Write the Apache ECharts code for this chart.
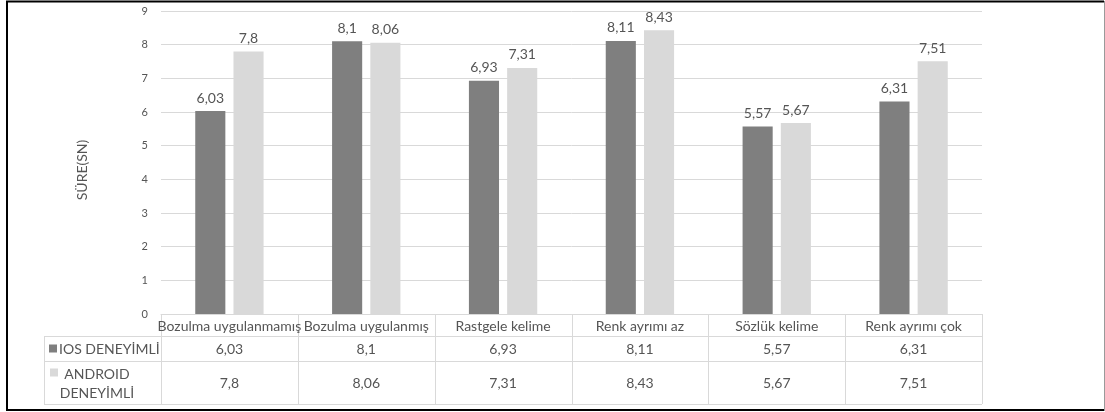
<!DOCTYPE html>
<html>
<head>
<meta charset="utf-8">
<script src="https://cdn.jsdelivr.net/npm/echarts@6/dist/echarts.min.js"></script>
<style>
  html, body { margin: 0; padding: 0; background: #fff; }
  #chart { width: 1105px; height: 412px; }
</style>
</head>
<body>
<div id="chart"></div>
<script>
// Categories and the two series of timing results (seconds)
const categories = ['Bozulma uygulanmamış', 'Bozulma uygulanmış', 'Rastgele kelime', 'Renk ayrımı az', 'Sözlük kelime', 'Renk ayrımı çok'];
const iosValues = [6.03, 8.1, 6.93, 8.11, 5.57, 6.31];
const androidValues = [7.8, 8.06, 7.31, 8.43, 5.67, 7.51];
const seriesNames = ['IOS DENEYİMLİ', 'ANDROID\nDENEYİMLİ'];
const yTicks = [0, 1, 2, 3, 4, 5, 6, 7, 8, 9];
const yTitle = 'SÜRE(SN)';

const W = 1105, H = 412;
const G = { left: 161, right: 123, top: 11, bottom: 98 };
const TEXT = '#555555';
const LINE = '#d9d9d9';
const COLORS = ['#7f7f7f', '#d9d9d9'];
const FONT = 'Lato';

const fmt = v => String(v).replace('.', ',');

const chart = echarts.init(document.getElementById('chart'), null, { renderer: 'canvas' });

chart.setOption({
  animation: false,
  backgroundColor: '#fff',
  textStyle: { fontFamily: FONT },
  grid: { left: G.left, right: G.right, top: G.top, bottom: G.bottom, containLabel: false },
  xAxis: {
    type: 'category',
    data: categories,
    axisLine: { show: true, lineStyle: { color: LINE } },
    axisTick: { show: false },
    axisLabel: { interval: 0, color: TEXT, fontSize: 14, fontFamily: FONT, margin: 5 }
  },
  yAxis: {
    type: 'value',
    min: yTicks[0],
    max: yTicks[yTicks.length - 1],
    interval: 1,
    axisLine: { show: false },
    axisTick: { show: false },
    axisLabel: { color: TEXT, fontSize: 11, fontFamily: FONT, margin: 13 },
    splitLine: { lineStyle: { color: LINE, width: 1 } }
  },
  series: [
    {
      name: seriesNames[0], type: 'bar', data: iosValues,
      barWidth: '22%', barGap: '27%',
      itemStyle: { color: COLORS[0] },
      label: { show: true, position: 'top', distance: 6, color: TEXT, fontSize: 14, fontFamily: FONT, formatter: p => fmt(p.value) }
    },
    {
      name: seriesNames[1], type: 'bar', data: androidValues,
      barWidth: '22%', barGap: '27%',
      itemStyle: { color: COLORS[1] },
      label: { show: true, position: 'top', distance: 6, color: TEXT, fontSize: 14, fontFamily: FONT, formatter: p => fmt(p.value) }
    }
  ]
});

// Data table under the plot, aligned with the category bands
function buildTable() {
  const plotL = G.left, plotR = W - G.right, axisY = H - G.bottom;
  const band = (plotR - plotL) / categories.length;
  const headL = 44;
  const rowCat = axisY + 22;      // bottom of the category-label row
  const rowIos = rowCat + 25;     // bottom of the first series row
  const rowAnd = rowIos + 43;     // bottom of the second series row
  const els = [];
  const line = (x1, y1, x2, y2, color) => els.push({
    type: 'line', shape: { x1, y1, x2, y2 }, silent: true,
    style: { stroke: color || LINE, lineWidth: 1 }
  });
  const text = (x, y, t, align) => els.push({
    type: 'text', x, y, silent: true,
    style: { text: t, fill: TEXT, font: '14px ' + FONT, align: align || 'center', verticalAlign: 'middle', lineHeight: 19 }
  });

  // horizontal rules
  line(headL, rowCat + 0.5, plotR, rowCat + 0.5);
  line(headL, rowIos + 0.5, plotR, rowIos + 0.5);
  line(headL, rowAnd + 0.5, plotR, rowAnd + 0.5);
  // vertical rules
  line(headL + 0.5, rowCat, headL + 0.5, rowAnd);
  for (let i = 0; i <= categories.length; i++) {
    const x = Math.round(plotL + band * i) + 0.5;
    line(x, axisY, x, rowAnd);
  }
  // values
  const rows = [[iosValues, (rowCat + rowIos) / 2], [androidValues, (rowIos + rowAnd) / 2]];
  rows.forEach(([vals, cy]) => {
    vals.forEach((v, i) => text(plotL + band * (i + 0.5), cy + 1, fmt(v)));
  });
  // row headers with legend keys
  const iosCy = (rowCat + rowIos) / 2;
  els.push({ type: 'rect', shape: { x: 49, y: iosCy - 4, width: 8, height: 8 }, silent: true, style: { fill: COLORS[0] } });
  text(59, iosCy + 1, seriesNames[0], 'left');
  const andCy = (rowIos + rowAnd) / 2;
  els.push({ type: 'rect', shape: { x: 50, y: andCy - 14, width: 8, height: 8 }, silent: true, style: { fill: COLORS[1] } });
  text(97, andCy + 1, seriesNames[1], 'center');

  // vertical axis title
  els.push({
    type: 'text', x: 82, y: 170, rotation: Math.PI / 2, silent: true,
    style: { text: yTitle, fill: TEXT, font: '14px ' + FONT, align: 'center', verticalAlign: 'middle' }
  });

  // outer frame: dark on three sides, light on the right
  els.push({ type: 'polyline', shape: { points: [[1104, 1.5], [7, 1.5], [7, 410], [1104, 410]] }, silent: true, style: { fill: 'none', stroke: '#000', lineWidth: 2 } });
  line(1104.5, 1, 1104.5, 411, '#9a9a9a');
  return els;
}

chart.setOption({ graphic: { elements: buildTable() } });
</script>
</body>
</html>
